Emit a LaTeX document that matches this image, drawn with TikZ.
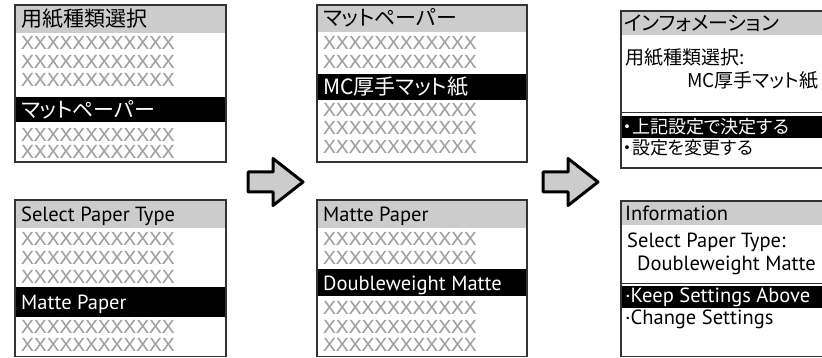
\documentclass[tikz,border=0pt]{standalone}
\usepackage{fontspec}
\setmainfont{PT Sans}
\newfontfamily\jpfont[RawFeature=+palt]{Noto Sans CJK JP}
\newfontfamily\xfont[FakeStretch=1.18]{DejaVu Sans Mono}
\usetikzlibrary{positioning}

\definecolor{headgray}{HTML}{CCCCCC}
\definecolor{xgray}{HTML}{A0A0A0}
\definecolor{framegray}{HTML}{333333}

\begin{document}
\begin{tikzpicture}[
        x=1pt, y=-1pt,
        panel/.style={draw=framegray, line width=1.3pt},
        header/.style={fill=headgray},
        selbar/.style={fill=black},
        entry/.style={
            anchor=west,
            inner sep=0pt,
            text height=14.6pt,
            text depth=0pt,
            font=\fontsize{20.5}{20.5}\selectfont
        },
        jpentry/.style={entry, text height=16pt, font=\jpfont\fontsize{21}{21}\selectfont},
        jpinfo/.style={entry, text height=14.4pt, font=\jpfont\fontsize{19}{19}\selectfont},
        jphead/.style={entry, text height=15.2pt, font=\jpfont\fontsize{20}{20}\selectfont},
        jpoption/.style={entry, text height=13.7pt, font=\jpfont\fontsize{18}{18}\selectfont},
        xrow/.style={
            anchor=west,
            inner sep=0pt,
            text height=13.1pt,
            text depth=0pt,
            text=xgray,
            font=\xfont\fontsize{18}{18}\selectfont
        },
        hilite/.style={text=white},
        flowarrow/.style={draw=black, fill=headgray, line width=3pt, line join=round},
        stepArrow/.pic={
            \draw[flowarrow] (0,-10) -- (25,-10) -- (25,-23.5) -- (55,0)
                -- (25,23.5) -- (25,10) -- (0,10) -- cycle;
        }
    ]
        \useasboundingbox (0,0) rectangle (822,358);
        \clip (0,0) rectangle (822,358);

        % screen 1: Japanese
        \fill[header] (15,5) rectangle (226,33);
        \fill[selbar] (15,97) rectangle (226,122);
        \node[jpentry] (titleA) at (21,19) {用紙種類選択};
        \foreach \y [count=\i] in {43,62,80,135,152} {
            \node[xrow] (xA\i) at (21,\y) {XXXXXXXXXXXX};
        }
        \node[jpentry, hilite] (pickA) at (21,110) {マットペーパー};
        \draw[panel] (15,5) rectangle (226,162);

        % screen 1: English
        \fill[header] (15,200) rectangle (226,228);
        \fill[selbar] (15,287) rectangle (226,317);
        \node[entry] (titleB) at (21,214) {Select Paper Type};
        \foreach \y [count=\i] in {239,258,277,327,345} {
            \node[xrow] (xB\i) at (21,\y) {XXXXXXXXXXXX};
        }
        \node[entry, hilite] (pickB) at (21,302) {Matte Paper};
        \draw[panel] (15,200) rectangle (226,356.5);

        % screen 2: Japanese
        \fill[header] (317,5) rectangle (527,32);
        \fill[selbar] (317,74) rectangle (527,100);
        \node[jpentry] (titleC) at (323,18) {マットペーパー};
        \foreach \y [count=\i] in {43,62,110,128,147} {
            \node[xrow] (xC\i) at (323,\y) {XXXXXXXXXXXX};
        }
        \node[jpentry, hilite] (pickC) at (323,87) {MC厚手マット紙};
        \draw[panel] (317,5) rectangle (527,162);

        % screen 2: English
        \fill[header] (317,200) rectangle (527,228);
        \fill[selbar] (317,269) rectangle (527,296);
        \node[entry] (titleD) at (323,214) {Matte Paper};
        \foreach \y [count=\i] in {239,258,308,327,345} {
            \node[xrow] (xD\i) at (323,\y) {XXXXXXXXXXXX};
        }
        \node[entry, hilite] (pickD) at (323,283) {Doubleweight Matte};
        \draw[panel] (317,200) rectangle (527,356.5);

        % screen 3: Japanese
        \fill[header] (621,11) rectangle (840,35);
        \fill[selbar] (621,116) rectangle (840,138);
        \draw[framegray, line width=1pt] (621,113) -- (840,113);
        \node[jphead] (titleE) at (624,23) {インフォメーション};
        \node[jpinfo] (labelE) at (625,57) {用紙種類選択:};
        \node[jpinfo] (valueE) at (687,80) {MC厚手マット紙};
        \node[jpoption, hilite] (keepE) at (623,127) {・上記設定で決定する};
        \node[jpoption] (changeE) at (623,148) {・設定を変更する};
        \draw[panel] (621,11) rectangle (840,168);

        % screen 3: English
        \fill[header] (621,201) rectangle (840,225);
        \fill[selbar] (621,286) rectangle (840,308);
        \draw[framegray, line width=1pt] (621,283) -- (840,283);
        \node[entry] (titleF) at (625,213) {Information};
        \node[entry] (labelF) at (627,240) {Select Paper Type:};
        \node[entry] (valueF) at (637,263) {Doubleweight Matte};
        \node[entry, hilite] (keepF) at (625,295) {·Keep Settings Above};
        \node[entry] (changeF) at (625,317) {·Change Settings};
        \draw[panel] (621,201) rectangle (840,356.5);

        % step arrows
        \pic at (248,182) {stepArrow};
        \pic at (543,182) {stepArrow};
    \end{tikzpicture}
\end{document}
